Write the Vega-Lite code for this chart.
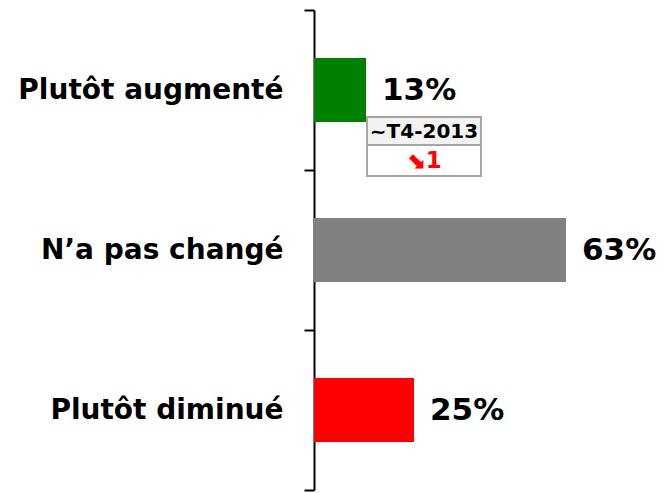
{
  "$schema": "https://vega.github.io/schema/vega-lite/v6.json",
  "autosize": "none",
  "width": 350,
  "height": 480,
  "padding": {"left": 314, "top": 10, "right": 0, "bottom": 3},
  "background": "white",
  "config": {"view": {"stroke": null}, "font": "DejaVu Sans"},
  "datasets": {
    "bars": [
      {"cat": "Plutôt augmenté", "value": 13, "label": "13%"},
      {"cat": "N’a pas changé", "value": 63, "label": "63%"},
      {"cat": "Plutôt diminué", "value": 25, "label": "25%"}
    ],
    "note": [
      {"cat": "Plutôt augmenté", "x0": 13.25, "x1": 41.75, "xm": 27.5, "period": "~T4-2013", "change": "⬊1"}
    ]
  },
  "layer": [
    {
      "data": {"name": "bars"},
      "mark": {"type": "bar", "height": 64},
      "encoding": {
        "y": {
          "field": "cat", "type": "nominal", "sort": null,
          "scale": {"paddingInner": 0, "paddingOuter": 0},
          "axis": {
            "title": null, "orient": "left",
            "labelFont": "DejaVu Sans", "labelFontWeight": "bold", "labelFontSize": 28,
            "labelColor": "black", "labelPadding": 21, "labelLimit": 0,
            "tickBand": "extent", "tickSize": 10, "tickColor": "black", "tickWidth": 2,
            "domainColor": "black", "domainWidth": 2
          }
        },
        "x": {"field": "value", "type": "quantitative", "scale": {"domain": [0, 87.5], "nice": false}, "axis": null},
        "color": {
          "field": "cat", "type": "nominal", "legend": null,
          "scale": {"domain": ["Plutôt augmenté", "N’a pas changé", "Plutôt diminué"], "range": ["#008000", "#808080", "#ff0000"]}
        }
      }
    },
    {
      "data": {"name": "bars"},
      "mark": {"type": "text", "align": "left", "baseline": "middle", "dx": 16, "dy": 1, "fontSize": 31, "fontWeight": "bold", "font": "DejaVu Sans", "color": "black"},
      "encoding": {
        "y": {"field": "cat", "type": "nominal", "sort": null},
        "x": {"field": "value", "type": "quantitative"},
        "text": {"field": "label"}
      }
    },
    {
      "data": {"name": "note"},
      "mark": {"type": "bar", "height": 28, "yOffset": 41, "fill": "#f2f2f2", "stroke": "#a6a6a6", "strokeWidth": 2},
      "encoding": {
        "y": {"field": "cat", "type": "nominal", "sort": null},
        "x": {"field": "x0", "type": "quantitative"},
        "x2": {"field": "x1"}
      }
    },
    {
      "data": {"name": "note"},
      "mark": {"type": "bar", "height": 31, "yOffset": 70.5, "fill": "white", "stroke": "#a6a6a6", "strokeWidth": 2},
      "encoding": {
        "y": {"field": "cat", "type": "nominal", "sort": null},
        "x": {"field": "x0", "type": "quantitative"},
        "x2": {"field": "x1"}
      }
    },
    {
      "data": {"name": "note"},
      "mark": {"type": "text", "align": "center", "baseline": "middle", "dy": 42, "fontSize": 20, "fontWeight": "bold", "font": "DejaVu Sans", "color": "black"},
      "encoding": {
        "y": {"field": "cat", "type": "nominal", "sort": null},
        "x": {"field": "xm", "type": "quantitative"},
        "text": {"field": "period"}
      }
    },
    {
      "data": {"name": "note"},
      "mark": {"type": "text", "align": "center", "baseline": "middle", "dy": 71, "fontSize": 23, "fontWeight": "bold", "font": "DejaVu Sans", "color": "#ff0000"},
      "encoding": {
        "y": {"field": "cat", "type": "nominal", "sort": null},
        "x": {"field": "xm", "type": "quantitative"},
        "text": {"field": "change"}
      }
    }
  ]
}
